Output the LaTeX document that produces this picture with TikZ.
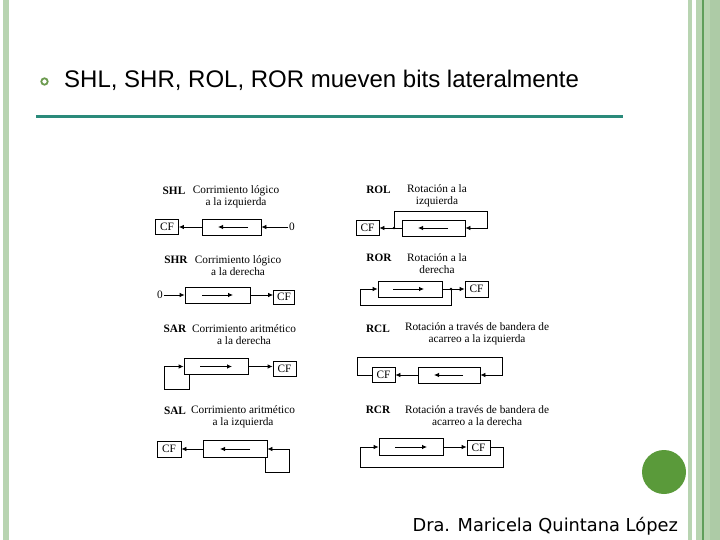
\documentclass[tikz,border=0pt]{standalone}
\usepackage{fontspec}
\setmainfont{Liberation Serif}
\newfontfamily\arialf{Liberation Sans}
\newfontfamily\footf{DejaVu Sans}
\usetikzlibrary{arrows.meta}
\definecolor{bordlight}{HTML}{B8D4B1}
\definecolor{borddark}{HTML}{5F9E5A}
\definecolor{bordmid}{HTML}{ADCBA6}
\definecolor{tealline}{HTML}{2A8A7A}
\definecolor{circgreen}{HTML}{5A9A3A}
\definecolor{bulletgreen}{HTML}{6B9A4E}
\tikzset{
  reg/.style={draw, line width=0.8pt, inner sep=0pt, minimum height=16pt},
  cfbox/.style={draw, line width=0.8pt, inner sep=0pt, minimum width=23pt, minimum height=15pt, font=\fontsize{11.3}{12}\selectfont},
  arr/.style={line width=0.8pt, -{Latex[length=5pt,width=4.5pt]}},
  lab/.style={inner sep=0pt, font=\bfseries\fontsize{11.3}{12}\selectfont},
  desc/.style={inner sep=0pt, align=center, font=\fontsize{11.3}{12}\selectfont},
  zero/.style={inner sep=0.5pt, font=\fontsize{11.3}{12}\selectfont},
}
\begin{document}
\begin{tikzpicture}[x=1pt,y=-1pt]
\useasboundingbox (0,0) rectangle (720,540);
\fill[white] (0,0) rectangle (720,540);
% borders
\fill[bordlight] (3,0) rectangle (9,540);
\fill[bordlight] (688,0) rectangle (692,540);
\fill[bordlight] (696,0) rectangle (702,540);
\fill[borddark] (702,0) rectangle (703.5,540);
\fill[bordlight] (703.5,0) rectangle (710,540);
\fill[bordmid] (710,0) rectangle (720,540);
% title
\draw[bulletgreen, line width=1.8pt] (44.5,81.5) circle (3.2);
\node[anchor=base west, inner sep=0pt, font=\arialf\fontsize{24}{28}\selectfont] (title) at (64,88) {SHL, SHR, ROL, ROR mueven bits lateralmente};
\draw[tealline, line width=3pt] (36,117) -- (623,117);
% footer
\fill[circgreen] (664,472) circle (22);
\node[anchor=base east, inner sep=0pt, font=\footf\fontsize{17.8}{20}\selectfont] (foot) at (678,531) {Dra. Maricela Quintana López};

% ---- SHL
\node[lab] (l1) at (174,191) {SHL};
\node[desc] (d1) at (236,196.5) {Corrimiento lógico\\a la izquierda};
\node[cfbox] (cf1) at (167,227) {CF};
\node[reg, minimum width=59pt] (reg1) at (231.5,227) {};
\node[zero] (z1) at (292,227) {0};
\draw[arr] ([xshift=16.5pt]reg1.center) -- ([xshift=-13.5pt]reg1.center);
\draw[arr] (reg1.west) -- (cf1.east);
\draw[arr] (z1.west) -- (reg1.east);

% ---- SHR
\node[lab] (l2) at (176,260) {SHR};
\node[desc] (d2) at (238,266) {Corrimiento lógico\\a la derecha};
\node[zero] (z2) at (160,295) {0};
\node[reg, minimum width=65pt] (reg2) at (217.5,295) {};
\node[cfbox, minimum width=21pt, minimum height=14pt] (cf2) at (284,297) {CF};
\draw[arr] ([xshift=-15.5pt]reg2.center) -- ([xshift=15.5pt]reg2.center);
\draw[arr] (z2.east) -- (reg2.west);
\draw[arr] (reg2.east) -- (reg2.east -| cf2.west);

% ---- ROL
\node[lab] (l3) at (378.5,190) {ROL};
\node[desc] (d3) at (437,196) {Rotación a la\\izquierda};
\node[cfbox] (cf3) at (367.5,228) {CF};
\node[reg, minimum width=63pt] (reg3) at (433.5,228) {};
\coordinate (rolDot) at (394,228);
\coordinate (rolTop) at (487,211);
\fill (rolDot) circle (1.4);
\draw[arr] ([xshift=14.5pt]reg3.center) -- ([xshift=-15.5pt]reg3.center);
\draw[arr] (reg3.west) -- (cf3.east);
\draw[arr] (rolDot) |- (rolTop) |- (reg3.east);

% ---- ROR
\node[lab] (l4) at (379,258) {ROR};
\node[desc] (d4) at (437,264) {Rotación a la\\derecha};
\node[reg, minimum width=64pt] (reg4) at (410,289) {};
\node[cfbox, minimum height=16pt] (cf4) at (476.5,289) {CF};
\coordinate (rorDot) at (451,289);
\coordinate (rorBot) at (360,305);
\fill (rorDot) circle (1.4);
\draw[arr] ([xshift=-17pt]reg4.center) -- ([xshift=14pt]reg4.center);
\draw[arr] (reg4.east) -- (cf4.west);
\draw[arr] (rorDot) |- (rorBot) |- (reg4.west);

% ---- SAR
\node[lab] (l5) at (175,329) {SAR};
\node[desc] (d5) at (244,335) {Corrimiento aritmético\\a la derecha};
\node[reg, minimum width=64pt] (reg5) at (216,366.5) {};
\node[cfbox] (cf5) at (284.5,368.5) {CF};
\coordinate (sarBot) at (164,389);
\draw[arr] ([xshift=-16pt]reg5.center) -- ([xshift=16pt]reg5.center);
\draw[arr] (reg5.east) -- (reg5.east -| cf5.west);
\draw[arr] ([xshift=-27pt]reg5.south) |- (sarBot) |- (reg5.west);

% ---- SAL
\node[lab] (l6) at (175,411) {SAL};
\node[desc] (d6) at (243,417) {Corrimiento aritmético\\a la izquierda};
\node[cfbox, minimum width=24pt, minimum height=16pt] (cf6) at (169,449) {CF};
\node[reg, minimum width=64pt, minimum height=17pt] (reg6) at (235,449) {};
\coordinate (salBot) at (289,472);
\draw[arr] ([xshift=15pt]reg6.center) -- ([xshift=-15pt]reg6.center);
\draw[arr] (reg6.west) -- (cf6.east);
\draw[arr] ([xshift=30pt]reg6.south) |- (salBot) |- (reg6.east);

% ---- RCL
\node[lab] (l7) at (378,329) {RCL};
\node[desc] (d7) at (477,334) {Rotación a través de bandera de\\acarreo a la izquierda};
\node[cfbox] (cf7) at (383.5,375) {CF};
\node[reg, minimum width=62pt] (reg7) at (449,375) {};
\coordinate (rclL) at (357,357);
\coordinate (rclR) at (502,357);
\draw[arr] ([xshift=14pt]reg7.center) -- ([xshift=-15pt]reg7.center);
\draw[arr] (reg7.west) -- (cf7.east);
\draw[arr] (cf7.west) -| (rclL) -- (rclR) |- (reg7.east);

% ---- RCR
\node[lab] (l8) at (378,410) {RCR};
\node[desc] (d8) at (477,416) {Rotación a través de bandera de\\acarreo a la derecha};
\node[reg, minimum width=64pt, minimum height=17pt] (reg8) at (411,447) {};
\node[cfbox] (cf8) at (478.5,447.5) {CF};
\coordinate (rcrR) at (503,467);
\coordinate (rcrL) at (360,467);
\draw[arr] ([xshift=-16pt]reg8.center) -- ([xshift=16pt]reg8.center);
\draw[arr] (reg8.east) -- (reg8.east -| cf8.west);
\draw[arr] (cf8.east) -| (rcrR) -- (rcrL) |- (reg8.west);
\end{tikzpicture}
\end{document}
